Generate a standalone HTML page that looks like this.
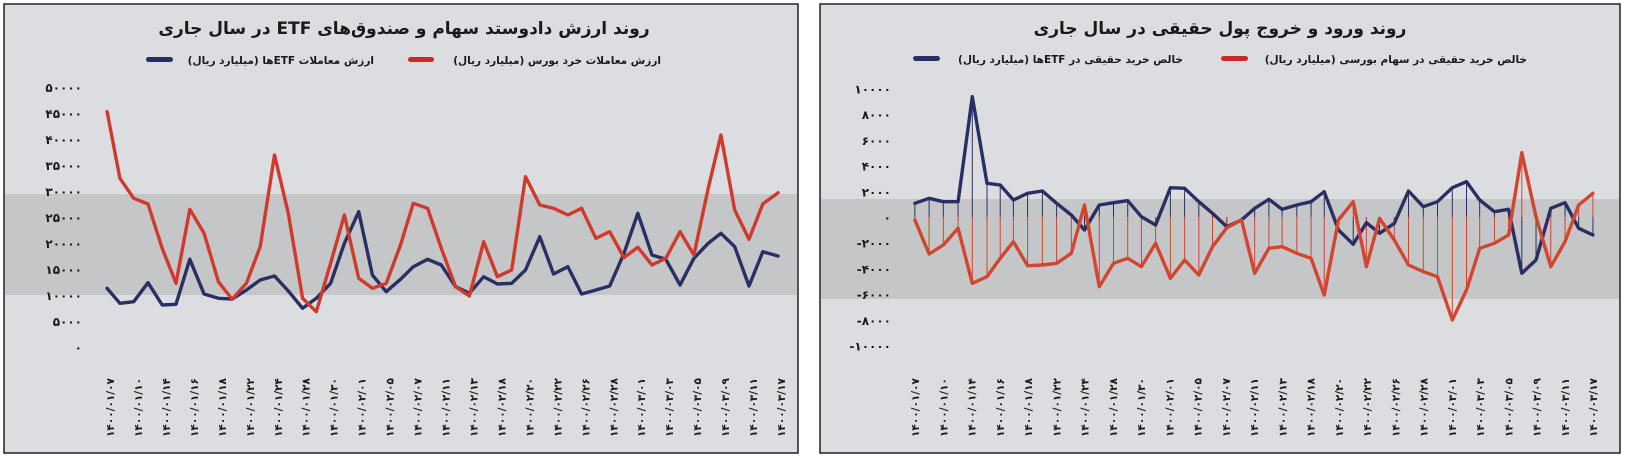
<!DOCTYPE html>
<html><head><meta charset="utf-8">
<style>
html,body{margin:0;padding:0;background:#fff;}
svg{display:block;}
text{font-family:"DejaVu Sans","Liberation Sans",sans-serif;font-weight:bold;fill:#1a1a1a;}
</style></head>
<body>
<svg id="s" width="1626" height="458" xmlns="http://www.w3.org/2000/svg">
<rect x="0" y="0" width="1626" height="458" fill="#ffffff"/>
<rect x="4" y="4" width="794" height="449" fill="#dcdde0" stroke="#222" stroke-width="1.5"/>
<rect x="820" y="4" width="800" height="449" fill="#dcdde0" stroke="#222" stroke-width="1.5"/>
<rect x="5" y="194" width="792" height="101" fill="#c5c6c8"/>
<rect x="821" y="199" width="798" height="100" fill="#c5c6c8"/>
<text x="404" y="34" font-size="17" text-anchor="middle" direction="rtl">روند ارزش دادوستد سهام و صندوق‌های ETF در سال جاری</text>
<text x="1220" y="34" font-size="17" text-anchor="middle" direction="rtl">روند ورود و خروج پول حقیقی در سال جاری</text>
<rect x="408" y="57" width="26" height="5" rx="2.5" fill="#cc2a2a"/>
<text x="661" y="64" font-size="10.5" text-anchor="start" direction="rtl">ارزش معاملات خرد بورس (میلیارد ریال)</text>
<rect x="146" y="57" width="27" height="5" rx="2.5" fill="#2a2f63"/>
<text x="374" y="64" font-size="10.5" text-anchor="start" direction="rtl">ارزش معاملات ETFها (میلیارد ریال)</text>
<rect x="1221" y="56" width="27" height="5" rx="2.5" fill="#cc2a2a"/>
<text x="1527" y="63" font-size="10.5" text-anchor="start" direction="rtl">خالص خرید حقیقی در سهام بورسی (میلیارد ریال)</text>
<rect x="913" y="56" width="27" height="5" rx="2.5" fill="#2a2f63"/>
<text x="1183" y="63" font-size="10.5" text-anchor="start" direction="rtl">خالص خرید حقیقی در ETFها (میلیارد ریال)</text>
<g id="g"></g>
</svg>
<script>
var fa=function(s){return String(s).replace(/[0-9]/g,function(d){return "۰۱۲۳۴۵۶۷۸۹"[d];});};
var g=document.getElementById('g'),h='';
for(var i=0;i<=10;i++){var v=i*5000,y=347-i*26;h+='<text x="82" y="'+(y+5)+'" font-size="12" text-anchor="end">'+fa(v)+'</text>';}
for(var i=-5;i<=5;i++){var v=i*2000,y=217-i*25.7;var s=(v<0?'-':'')+fa(Math.abs(v));h+='<text x="891" y="'+(y+5)+'" font-size="12" text-anchor="end">'+s+'</text>';}
var dates=["01/07","01/10","01/14","01/16","01/18","01/22","01/24","01/28","01/30","02/01","02/05","02/07","02/11","02/13","02/18","02/20","02/22","02/26","02/28","03/01","03/03","03/05","03/09","03/11","03/17"];
function lab(x0,x1){for(var i=0;i<25;i++){var x=x0+(x1-x0)*i/24;h+='<text transform="translate('+(x+4)+',437) rotate(-90)" font-size="10.5" letter-spacing="1.5">'+fa("1400/"+dates[i])+'</text>';}}
lab(110,781);lab(915,1593);
function pts(a,sx,sy,ox){var r=[];for(var i=0;i<a.length;i+=2)r.push([ox+a[i]/sx,a[i+1]/sy]);return r;}
function line(p,c,w){return '<polyline fill="none" stroke="'+c+'" stroke-width="'+w+'" stroke-linejoin="round" stroke-linecap="round" points="'+p.map(function(q){return q[0].toFixed(1)+','+q[1].toFixed(1)}).join(' ')+'"/>';}
var LR=[210,335,235,535,262,595,290,612,318,745,345,850,372,628,400,700,428,845,455,898,483,850,510,740,538,465,565,640,593,895,620,935,648,790,675,645,703,835,730,865,757,850,785,735,810,610,838,625,865,745,893,860,920,888,948,725,975,830,1003,810,1030,530,1058,615,1085,625,1113,645,1140,625,1168,715,1195,695,1223,773,1250,742,1278,795,1305,775,1333,695,1360,765,1388,565,1413,405,1440,630,1468,718,1495,612,1525,578];
var LB=[210,865,235,910,262,905,290,848,318,915,345,913,372,778,400,882,428,895,455,897,483,870,510,840,538,828,565,873,593,925,620,895,648,850,675,730,703,635,730,825,757,875,785,838,810,800,838,778,865,795,893,860,920,880,948,830,975,852,1003,850,1030,810,1058,710,1085,822,1113,800,1140,882,1168,870,1195,858,1223,760,1250,640,1278,765,1305,778,1333,855,1360,775,1388,730,1413,700,1440,740,1468,858,1495,755,1525,768];
var RB=[218,610,245,595,272,605,300,605,327,290,355,550,380,555,405,600,432,580,460,573,487,610,515,645,540,690,568,615,595,608,622,602,648,650,675,675,703,563,730,565,757,605,783,640,810,680,838,660,863,625,890,598,915,628,943,615,970,605,995,575,1022,690,1050,733,1075,668,1100,700,1128,670,1155,573,1183,620,1210,605,1238,563,1265,545,1290,600,1318,635,1345,628,1370,820,1397,780,1425,625,1452,608,1478,685,1505,705];
var RR=[218,660,245,762,272,735,300,685,327,850,355,830,380,775,405,725,432,797,460,795,487,790,515,760,540,615,568,860,595,790,622,775,648,800,675,730,703,835,730,780,757,825,783,740,810,683,838,660,863,820,890,745,915,740,943,760,970,775,995,885,1022,660,1050,605,1075,800,1100,655,1128,720,1155,795,1183,815,1210,830,1238,960,1265,870,1290,745,1318,730,1345,705,1370,458,1397,650,1425,800,1452,725,1478,615,1505,580];
var lb=pts(LB,1.96,3,0),lr=pts(LR,1.96,3,0),rb=pts(RB,1.898,3,800),rr=pts(RR,1.898,3,800);
var z=217;
rb.forEach(function(p){h+='<line x1="'+p[0]+'" y1="'+z+'" x2="'+p[0]+'" y2="'+p[1]+'" stroke="#2a2f63" stroke-width="1"/>';});
rr.forEach(function(p){h+='<line x1="'+p[0]+'" y1="'+z+'" x2="'+p[0]+'" y2="'+p[1]+'" stroke="#d2452f" stroke-width="1"/>';});
h+=line(lb,'#2a2f63',3.4)+line(lr,'#cf3a2c',3.4)+line(rb,'#2a2f63',3.4)+line(rr,'#d2452f',3.4);
g.innerHTML=h;
</script>
</body></html>
